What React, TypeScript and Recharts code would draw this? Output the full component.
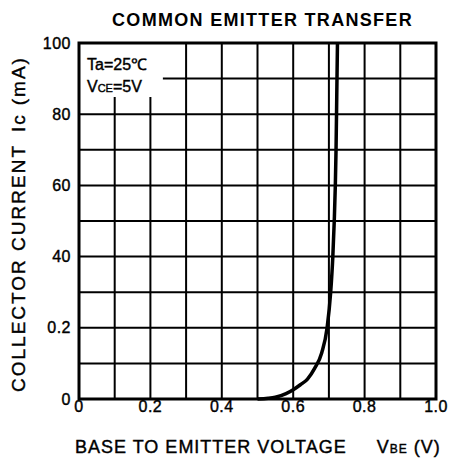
import React from "react";
import {
  CartesianGrid,
  Line,
  LineChart,
  ReferenceArea,
  XAxis,
  YAxis,
} from "recharts";

// VBE (V) vs Ic (mA)
const vbe = [0.5, 0.53, 0.55, 0.58, 0.6, 0.62, 0.64, 0.66, 0.68, 0.695, 0.705, 0.711, 0.715, 0.718, 0.72, 0.722, 0.724];
const ic = [0, 0.2, 0.5, 1.5, 2.6, 4.0, 5.6, 8.6, 13, 20, 30, 40, 50, 60, 70, 85, 100];

const xTicks = [0, 0.1, 0.2, 0.3, 0.4, 0.5, 0.6, 0.7, 0.8, 0.9, 1.0];
const xTickLabels = ["0", "", "0.2", "", "0.4", "", "0.6", "", "0.8", "", "1.0"];
const yTicks = [0, 10, 20, 30, 40, 50, 60, 70, 80, 90, 100];
// the original sheet really prints "0.2" at the 20 mA line
const yTickLabels = ["0", "", "0.2", "", "40", "", "60", "", "80", "", "100"];

const title = "COMMON EMITTER TRANSFER";
const conditions = ["Ta=25℃", "5V"];

const data = vbe.map((v, i) => ({ v, ic: ic[i] }));

const FONT = "'Liberation Sans', Arial, Helvetica, sans-serif";
// thin stroke to get the heavy look of the scanned lettering
const ink = { fill: "#000", stroke: "#000", strokeWidth: 0.4 };
const tickStyle = { fontSize: 16, fontFamily: FONT, letterSpacing: 0.5, ...ink };

function XTitle({ viewBox }: any) {
  return (
    <text
      x={viewBox.x - 4}
      y={viewBox.y + 54}
      fontSize={18}
      fontFamily={FONT}
      letterSpacing={1}
      textAnchor="start"
      {...ink}
    >
      BASE TO EMITTER VOLTAGE
      <tspan dx={30}>V</tspan>
      <tspan fontSize={12}>BE</tspan>
      <tspan dx={6}>(V)</tspan>
    </text>
  );
}

function YTitle({ viewBox }: any) {
  const cy = viewBox.y + viewBox.height / 2 + 3;
  return (
    <text
      x={25}
      y={cy}
      transform={`rotate(-90, 25, ${cy})`}
      fontSize={19}
      fontFamily={FONT}
      letterSpacing={2}
      textAnchor="middle"
      {...ink}
    >
      COLLECTOR CURRENT
      <tspan dx={12}>Ic</tspan>
      <tspan dx={8}>(mA)</tspan>
    </text>
  );
}

function Conditions({ viewBox }: any) {
  return (
    <g fontFamily={FONT} fontSize={16} {...ink}>
      <text x={viewBox.x + 8} y={viewBox.y + 27}>
        {conditions[0]}
      </text>
      <text x={viewBox.x + 8} y={viewBox.y + 49}>
        V<tspan fontSize={11}>CE</tspan>={conditions[1]}
      </text>
    </g>
  );
}

export default function App() {
  return (
    <div
      style={{
        position: "absolute",
        left: 0,
        top: 0,
        width: 451,
        height: 473,
        background: "#fff",
      }}
    >
      <div
        style={{
          position: "absolute",
          left: 84,
          top: 11,
          width: 357,
          textAlign: "center",
          fontFamily: FONT,
          fontWeight: "bold",
          fontSize: 18,
          lineHeight: "18px",
          letterSpacing: 1.3,
        }}
      >
        {title}
      </div>
      <LineChart
        width={451}
        height={473}
        data={data}
        margin={{ top: 43, right: 15, bottom: 0, left: 0 }}
      >
        <CartesianGrid stroke="#000" strokeWidth={2} />
        <XAxis
          dataKey="v"
          type="number"
          domain={[0, 1]}
          ticks={xTicks}
          interval={0}
          tickFormatter={(_, i) => xTickLabels[i]}
          axisLine={false}
          tickLine={false}
          tickSize={2}
          tickMargin={0}
          height={74}
          tick={tickStyle}
          label={{ content: (p: any) => <XTitle viewBox={p.viewBox} /> }}
        />
        <YAxis
          type="number"
          domain={[0, 100]}
          ticks={yTicks}
          interval={0}
          tickFormatter={(_, i) => yTickLabels[i]}
          axisLine={false}
          tickLine={false}
          width={79}
          tick={tickStyle}
          label={{ content: (p: any) => <YTitle viewBox={p.viewBox} /> }}
        />
        <ReferenceArea
          x1={0}
          x2={0.235}
          y1={84.8}
          y2={100}
          fill="#fff"
          fillOpacity={1}
          stroke="none"
          label={{ content: (p: any) => <Conditions viewBox={p.viewBox} /> }}
        />
        <ReferenceArea
          x1={0}
          x2={1}
          y1={0}
          y2={100}
          fill="none"
          stroke="#000"
          strokeWidth={3}
        />
        <Line
          dataKey="ic"
          type="monotone"
          stroke="#000"
          strokeWidth={3.5}
          dot={false}
          isAnimationActive={false}
        />
      </LineChart>
    </div>
  );
}
